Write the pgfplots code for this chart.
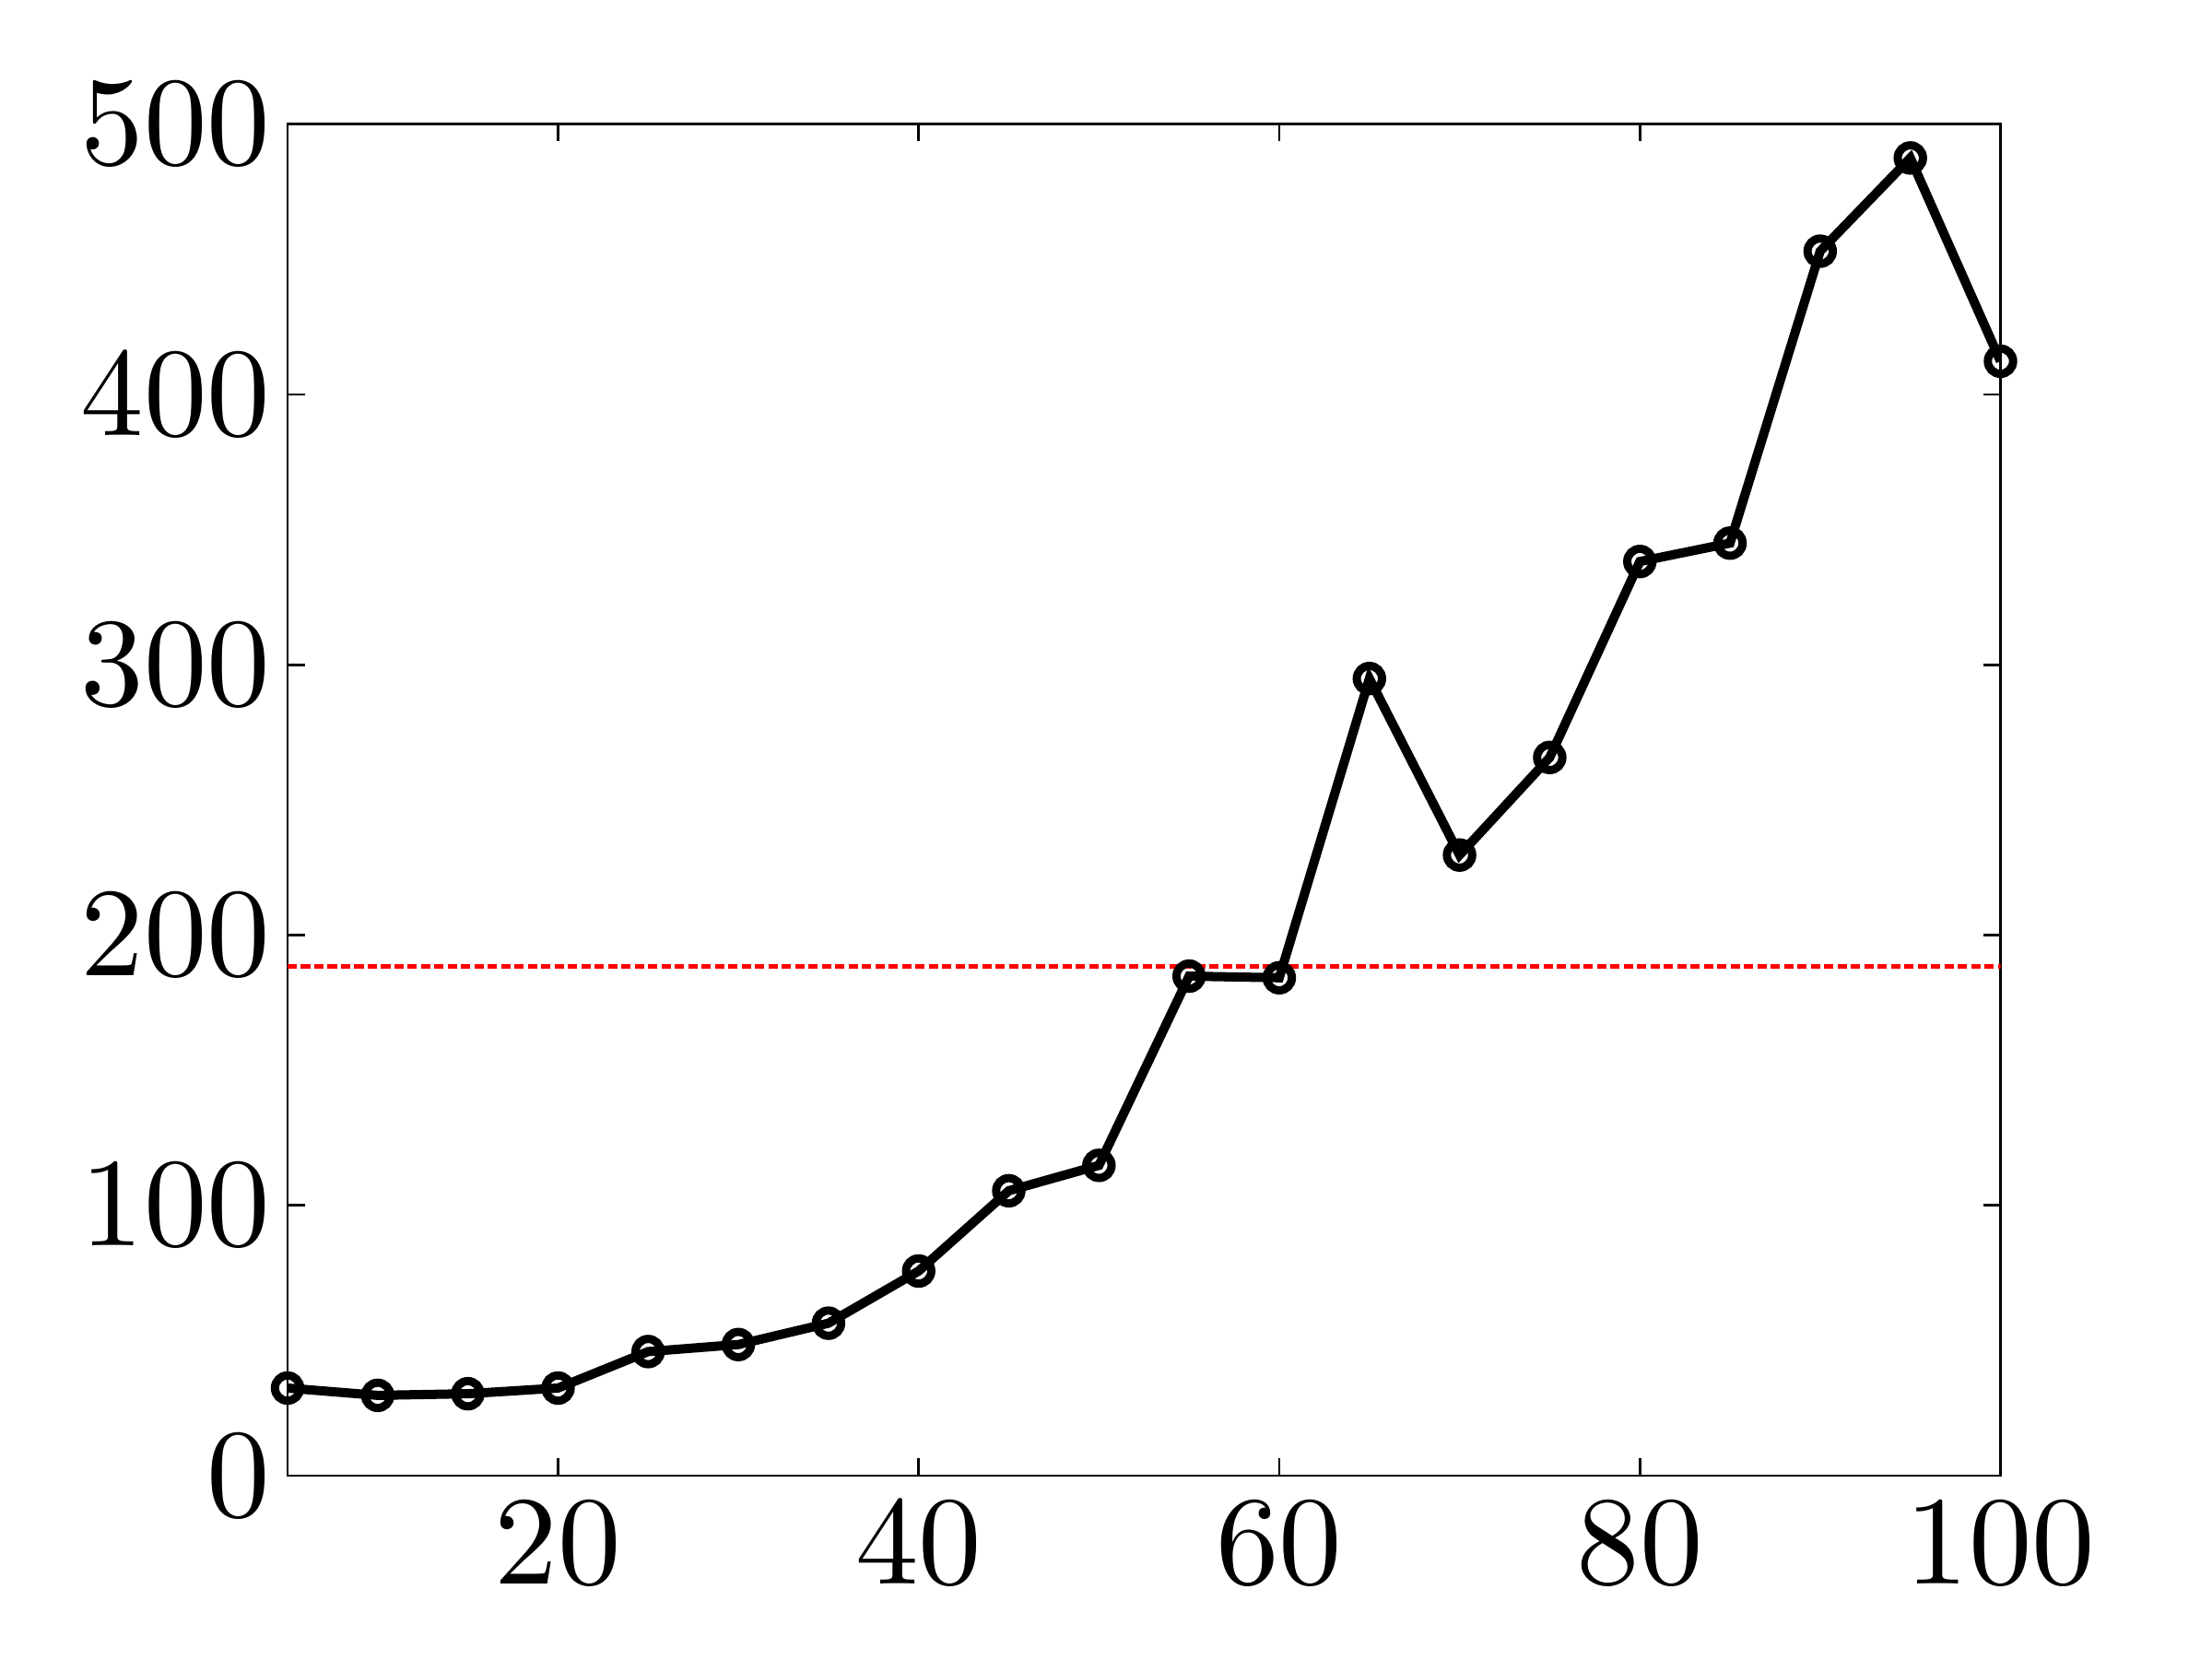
\documentclass[border=0pt]{standalone}
\usepackage{pgfplots}
\pgfplotsset{compat=1.18}

\font\ticksfont=cmr10 at 26pt

\pgfplotstableread{
x y
5 32.4
10 29.7
15 30.3
20 32.4
25 45.9
30 48.5
35 56.4
40 75.7
45 105.4
50 114.8
55 184.8
60 184.2
65 294.9
70 229.6
75 265.7
80 338.2
85 345.0
90 453.0
95 487.5
100 412.3
}\datatable

\begin{document}
\begin{tikzpicture}
\useasboundingbox (-2.08cm,-1.327cm) rectangle (13.92cm,10.673cm);
\begin{axis}[
    at={(0,0)}, anchor=south west,
    scale only axis,
    width=12.39cm, height=9.775cm,
    xmin=5, xmax=100,
    ymin=0, ymax=500,
    xtick={20,40,60,80,100},
    ytick={0,100,200,300,400,500},
    tick align=inside,
    major tick length=0.125cm,
    axis line style={line width=0.5pt},
    every tick/.style={black, line width=0.5pt},
    /pgf/number format/assume math mode=true,
    tick label style={font=\ticksfont},
    xticklabel style={yshift=-2pt},
]
\addplot[black, line width=1.9pt, mark=o, mark size=2.6pt,
    mark options={line width=1.7pt}] table[x=x, y=y] {\datatable};
\addplot[red, line width=1.1pt, dash pattern=on 1.9pt off 0.85pt]
    coordinates {(5,188.4) (100,188.4)};
\end{axis}
\end{tikzpicture}
\end{document}
